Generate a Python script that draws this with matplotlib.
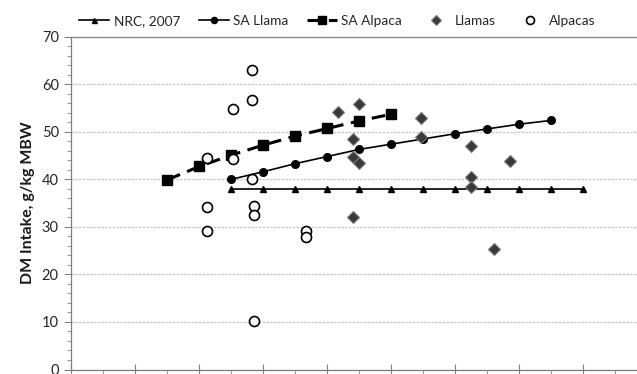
import matplotlib
matplotlib.use("Agg")
import matplotlib.pyplot as plt
from matplotlib.ticker import MultipleLocator

# ---- data (x in major-tick units, y in g/kg MBW) ----
nrc_x = [2.5, 3.0, 3.5, 4.0, 4.5, 5.0, 5.5, 6.0, 6.5, 7.0, 7.5, 8.0]
nrc_y = [38, 38, 38, 38, 38, 38, 38, 38, 38, 38, 38, 38]

sa_llama_x = [2.5, 3.0, 3.5, 4.0, 4.5, 5.0, 5.5, 6.0, 6.5, 7.0, 7.5]
sa_llama_y = [40.0, 41.6, 43.3, 44.8, 46.3, 47.4, 48.5, 49.6, 50.6, 51.6, 52.4]

sa_alpaca_x = [1.5, 2.0, 2.5, 3.0, 3.5, 4.0, 4.5, 5.0]
sa_alpaca_y = [39.9, 42.7, 45.1, 47.2, 49.1, 50.7, 52.3, 53.7]

llamas_x = [4.17, 4.50, 4.40, 4.40, 4.50, 4.40, 5.46, 5.46, 6.25, 6.25, 6.25, 6.60, 6.85]
llamas_y = [54.2, 55.9, 48.4, 44.7, 43.5, 32.0, 52.9, 49.0, 47.0, 40.4, 38.3, 25.3, 43.9]

alpacas_x = [2.12, 2.12, 2.12, 2.52, 2.52, 2.82, 2.82, 2.82, 2.85, 2.85, 2.85, 3.66, 3.66]
alpacas_y = [44.5, 34.2, 29.2, 54.8, 44.3, 63.0, 56.7, 40.0, 34.4, 32.6, 10.2, 29.1, 27.9]

y_ticks = [0, 10, 20, 30, 40, 50, 60, 70]

plt.rcParams['font.family'] = ['Lato', 'DejaVu Sans']

W, H = 637, 374
fig = plt.figure(figsize=(W / 100, H / 100), dpi=100)
left_px, right_px, top_px, bottom_px = 71.3, 637, 36.7, 369.5
ax = fig.add_axes([left_px / W, 1 - bottom_px / H,
                   (right_px - left_px) / W, (bottom_px - top_px) / H])

ax.set_xlim(0, (right_px - left_px) / 64.0)
ax.set_ylim(0, 70)

# gridlines
ax.set_yticks(y_ticks)
ax.yaxis.grid(True, color='#c4c4c4', linestyle=(0, (2, 1)), linewidth=0.9)
ax.set_axisbelow(True)

# spines
ax.spines['right'].set_visible(False)
ax.spines['top'].set_color('#8c8c8c')
ax.spines['top'].set_linewidth(1.0)
ax.spines['left'].set_color('#7f7f7f')
ax.spines['bottom'].set_color('#7f7f7f')
ax.spines['left'].set_linewidth(0.9)
ax.spines['bottom'].set_linewidth(0.9)

# ticks
ax.yaxis.set_minor_locator(MultipleLocator(2))
ax.tick_params(axis='y', which='major', length=5, color='#7f7f7f', labelsize=10.5,
               labelcolor='#262626', pad=4)
ax.tick_params(axis='y', which='minor', length=3, color='#7f7f7f')
ax.xaxis.set_major_locator(MultipleLocator(1))
ax.xaxis.set_minor_locator(MultipleLocator(0.5))
ax.tick_params(axis='x', which='major', direction='inout', length=8, color='#7f7f7f',
               labelbottom=False)
ax.tick_params(axis='x', which='minor', direction='out', length=4, color='#7f7f7f')

# series
ax.plot(nrc_x, nrc_y, color='black', lw=1.2, marker='^', ms=4.5,
        label='NRC, 2007', zorder=3)
ax.plot(sa_llama_x, sa_llama_y, color='black', lw=1.2, marker='o', ms=5.5,
        label='SA Llama', zorder=3)
ax.plot(sa_alpaca_x, sa_alpaca_y, color='black', lw=2.2, linestyle=(0, (4.5, 2.5)),
        marker='s', ms=6.5, label='SA Alpaca', zorder=3)
ax.plot(llamas_x, llamas_y, linestyle='none', marker='D', ms=5.8,
        markerfacecolor='#3a3a3a', markeredgecolor='#7a7a7a', markeredgewidth=0.8,
        label='Llamas', zorder=4)
ax.plot(alpacas_x, alpacas_y, linestyle='none', marker='o', ms=7.2,
        markerfacecolor='white', markeredgecolor='black', markeredgewidth=1.2,
        label='Alpacas', zorder=4)

ax.set_ylabel('DM Intake, g/kg MBW', fontsize=11.5, fontweight='bold', color='#1a1a1a',
              labelpad=5)

leg = fig.legend(loc='center', bbox_to_anchor=(0.53, 1 - 21 / H), ncol=5,
                 frameon=False, fontsize=9.8, handlelength=2.2, handletextpad=0.3,
                 columnspacing=1.4, markerscale=0.8)
for t in leg.get_texts():
    t.set_color('#262626')

fig.savefig('out.png', dpi=100)
